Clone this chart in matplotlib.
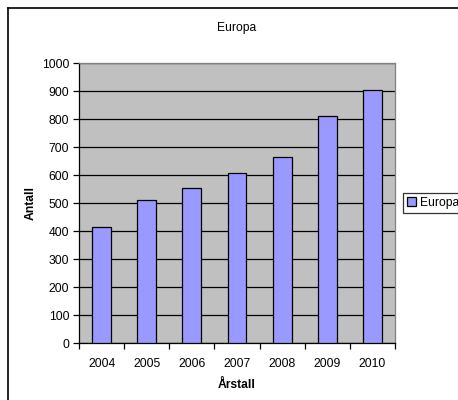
import matplotlib
matplotlib.use('Agg')
import matplotlib.pyplot as plt
from matplotlib.lines import Line2D
import numpy as np

plt.rcParams['font.family'] = ['Liberation Sans', 'DejaVu Sans']

years = ['2004', '2005', '2006', '2007', '2008', '2009', '2010']
antall = [413, 510, 552, 607, 663, 810, 902]
yticks = [0, 100, 200, 300, 400, 500, 600, 700, 800, 900, 1000]

W, H = 458, 400
fs = 8.7
fig = plt.figure(figsize=(W / 100, H / 100), dpi=100)
ax = fig.add_axes([79 / W, 1 - 343 / H, (395 - 79) / W, (343 - 63) / H])

x = np.arange(len(years))
ax.bar(x, antall, width=0.42, color='#9999FF', edgecolor='black', linewidth=0.9,
       label='Europa', zorder=3)

ax.set_facecolor('#C0C0C0')
ax.set_xlim(-0.5, len(years) - 0.5)
ax.set_ylim(0, 1000)
ax.set_yticks(yticks)
ax.set_yticklabels([str(v) for v in yticks], fontsize=fs)
ax.yaxis.grid(True, color='black', linewidth=0.9, zorder=1)
ax.set_axisbelow(True)

# x labels in the middle, ticks on the category borders
ax.set_xticks(x)
ax.set_xticklabels(years, fontsize=fs)
ax.tick_params(axis='x', which='major', length=0, pad=11)
ax.set_xticks(np.arange(-0.5, len(years)), minor=True)
ax.tick_params(axis='x', which='minor', length=4, width=0.9, direction='out')
ax.tick_params(axis='y', length=4, width=0.9, direction='out', pad=3)

for s in ['top', 'right']:
    ax.spines[s].set_color('#808080')
    ax.spines[s].set_linewidth(0.9)
for s in ['left', 'bottom']:
    ax.spines[s].set_color('black')
    ax.spines[s].set_linewidth(0.9)

ax.set_xlabel('Årstall', fontsize=fs, fontweight='bold', labelpad=6)
ax.set_ylabel('Antall', fontsize=fs, fontweight='bold', labelpad=4)
fig.text(237 / W, 1 - 28 / H, 'Europa', fontsize=fs, ha='center', va='center')

leg = ax.legend(loc='center left', bbox_to_anchor=(403 / W, 1 - 203 / H),
                bbox_transform=fig.transFigure, fontsize=fs, frameon=True,
                fancybox=False, borderpad=0.3, handlelength=0.8, handleheight=0.8,
                handletextpad=0.3, borderaxespad=0)
leg.get_frame().set_edgecolor('black')
leg.get_frame().set_linewidth(0.9)

# outer chart border (only left and top are inside the picture)
fig.add_artist(Line2D([8 / W, 8 / W], [0, 1 - 8 / H], color='black', linewidth=1.2,
                      transform=fig.transFigure))
fig.add_artist(Line2D([8 / W, 1], [1 - 8 / H, 1 - 8 / H], color='black', linewidth=1.2,
                      transform=fig.transFigure))

fig.savefig('out.png', dpi=100)
